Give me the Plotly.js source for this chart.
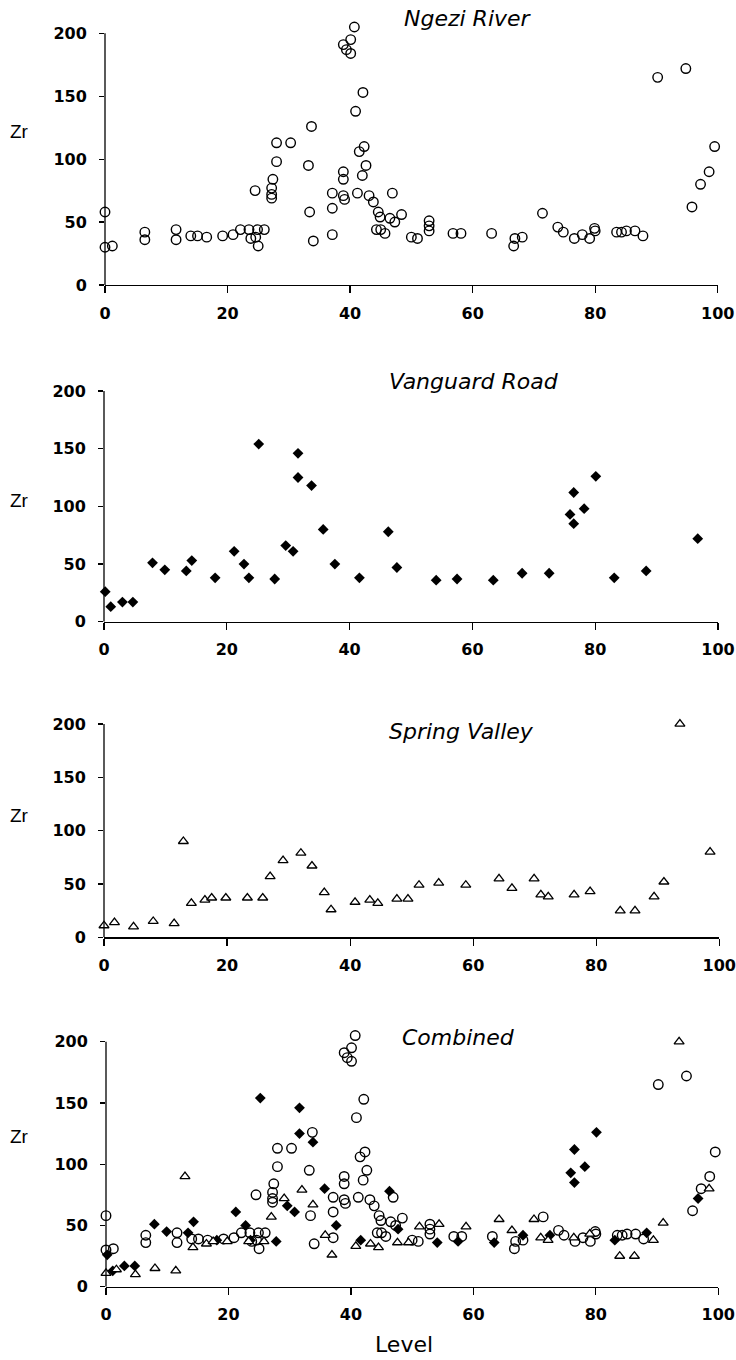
<!DOCTYPE html>
<html>
<head>
<meta charset="utf-8">
<script src="https://cdn.plot.ly/plotly-3.0.1.min.js"></script>
<style>html,body{margin:0;padding:0;background:#fff;}#chart{width:736px;height:1360px;}</style>
</head>
<body>
<div id="chart"></div>
<script>
// ---- Data (Level, Zr) ----
const ngeziLevel = [0,0,1.2,6.5,6.5,11.6,11.6,14.0,15.1,16.6,19.2,20.9,22.1,23.5,23.8,24.6,24.9,25.0,26.0,24.5,27.4,27.2,27.2,27.2,28.0,28.0,30.3,33.2,33.7,33.4,34.0,37.1,37.1,37.1,38.9,38.9,38.9,39.1,38.9,39.4,40.1,40.1,40.7,40.9,42.1,41.2,41.5,42.3,42.0,42.6,43.1,43.8,44.6,44.9,44.3,45.0,45.7,46.9,46.5,47.3,48.4,50.0,51.0,52.9,52.9,52.9,56.8,58.1,63.1,66.7,66.9,68.1,71.4,73.9,74.8,76.6,77.9,79.1,79.9,80.0,83.5,84.3,85.1,86.5,87.8,90.2,94.8,95.8,97.2,98.6,99.5];
const ngeziZr    = [58,30,31,42,36,44,36,39,39,38,39,40,44,44,37,38,44,31,44,75,84,77,72,69,113,98,113,95,126,58,35,40,73,61,90,84,71,68,191,187,195,184,205,138,153,73,106,110,87,95,71,66,58,54,44,44,41,73,53,50,56,38,37,51,47,43,41,41,41,31,37,38,57,46,42,37,40,37,45,43,42,42,43,43,39,165,172,62,80,90,110];

const vanguardLevel = [0.2,1.1,3.0,4.7,7.9,9.9,13.4,14.3,18.1,21.2,22.8,23.6,25.2,27.8,29.6,30.8,31.6,31.6,33.8,35.7,37.6,41.6,46.3,47.7,54.1,57.5,63.4,68.1,72.5,75.9,76.5,76.5,78.2,80.1,83.1,88.3,96.7];
const vanguardZr    = [26,13,17,17,51,45,44,53,38,61,50,38,154,37,66,61,146,125,118,80,50,38,78,47,36,37,36,42,42,93,112,85,98,126,38,44,72];

const springLevel = [0,1.7,4.8,8.0,11.4,12.9,14.2,16.4,17.5,19.8,23.3,25.8,27.0,29.1,32.0,33.8,35.8,36.9,40.8,43.2,44.5,47.6,49.4,51.2,54.4,58.8,64.2,66.3,69.9,71.0,72.2,76.4,79.0,83.9,86.3,89.4,91.0,93.6,98.5];
const springZr    = [11,14,10,15,13,90,32,35,37,37,37,37,57,72,79,67,42,26,33,35,32,36,36,49,51,49,55,46,55,40,38,40,43,25,25,38,52,200,80];

const panelTitles = ["Ngezi River","Vanguard Road","Spring Valley","Combined"];
const xTicks = [0,20,40,60,80,100];
const yTicks = [0,50,100,150,200];

// ---- Layout geometry (pixels in a 736x1360 page) ----
const W = 736, H = 1360;
const yAxisMax = 200, yRangeMax = 215;
const panels = [
  {x0:105, x1:717.7, yTop:33.3,  yBot:285,    titleX:402, titleY:19,   zrY:131},
  {x0:104, x1:718,   yTop:391,   yBot:621.7,  titleX:387, titleY:381,  zrY:500},
  {x0:104, x1:719.3, yTop:724,   yBot:937.3,  titleX:387, titleY:731,  zrY:815},
  {x0:106, x1:718.3, yTop:1041.7,yBot:1286.7, titleX:400, titleY:1037, zrY:1136}
];

const circleStyle  = {symbol:'circle-open', size:9.5, color:'#000', line:{width:1.4, color:'#000'}};
const diamondStyle = {symbol:'diamond', size:8.3, color:'#000', line:{width:0}};
const triStyle     = {symbol:'triangle-up', size:8.7, color:'#fff', line:{width:1.3, color:'#000'}};

const traces = [];
function addTrace(xs, ys, style, axIdx) {
  const s = axIdx === 1 ? '' : String(axIdx);
  traces.push({x:xs, y:ys, type:'scatter', mode:'markers', marker:style,
    xaxis:'x'+s, yaxis:'y'+s, cliponaxis:false, hoverinfo:'x+y', showlegend:false});
}
addTrace(ngeziLevel, ngeziZr, circleStyle, 1);
addTrace(vanguardLevel, vanguardZr, diamondStyle, 2);
addTrace(springLevel, springZr, triStyle, 3);
addTrace(ngeziLevel, ngeziZr, circleStyle, 4);
addTrace(vanguardLevel, vanguardZr, diamondStyle, 4);
addTrace(springLevel, springZr, triStyle, 4);

const tickFont = {family:'DejaVu Sans, Arial, sans-serif', size:16, color:'#000', weight:'bold'};

const layout = {
  width:W, height:H, margin:{l:0,r:0,t:0,b:0},
  paper_bgcolor:'#fff', plot_bgcolor:'#fff', showlegend:false,
  annotations:[], shapes:[]
};

panels.forEach((p, i) => {
  const s = i === 0 ? '' : String(i+1);
  const pxPerUnit = (p.yBot - p.yTop) / yAxisMax;
  const topPx = p.yBot - pxPerUnit * yRangeMax;
  layout['xaxis'+s] = {
    domain:[p.x0/W, p.x1/W], anchor:'y'+s, range:[0,100], fixedrange:true,
    tickvals:xTicks, ticktext:xTicks.map(String), ticks:'outside', ticklen:7, tickwidth:1.2, tickcolor:'#000',
    showline:true, linecolor:'#000', linewidth:1.3, showgrid:false, zeroline:false,
    tickfont:tickFont, ticklabelstandoff:6, ticklabeloverflow:'allow'
  };
  layout['yaxis'+s] = {
    domain:[(H-p.yBot)/H, (H-topPx)/H], anchor:'x'+s, range:[0,yRangeMax], fixedrange:true,
    tickvals:yTicks, ticktext:yTicks.map(String), ticks:'outside', ticklen:5, tickwidth:1.2, tickcolor:'#000',
    showline:false, showgrid:false, zeroline:false,
    tickfont:tickFont, ticklabelstandoff:9, ticklabeloverflow:'allow'
  };
  // y axis line only spans 0..200
  layout.shapes.push({type:'line', xref:'x'+s+' domain', yref:'y'+s, x0:0, x1:0, y0:0, y1:yAxisMax,
    line:{color:'#000', width:1.3}, layer:'above'});
  layout.annotations.push({
    text:panelTitles[i], xref:'paper', yref:'paper', x:p.titleX/W, y:(H-p.titleY)/H,
    xanchor:'left', yanchor:'middle', showarrow:false,
    font:{family:'DejaVu Sans, sans-serif', size:22, color:'#000', style:'italic'}
  });
  layout.annotations.push({
    text:'Zr', xref:'paper', yref:'paper', x:19/W, y:(H-p.zrY)/H,
    xanchor:'center', yanchor:'middle', showarrow:false,
    font:{family:'Liberation Sans, Arial, sans-serif', size:19, color:'#000'}
  });
});

layout.annotations.push({
  text:'Level', xref:'paper', yref:'paper', x:404/W, y:(H-1344)/H,
  xanchor:'center', yanchor:'middle', showarrow:false,
  font:{family:'DejaVu Sans, sans-serif', size:22, color:'#000'}
});

Plotly.newPlot('chart', traces, layout, {displayModeBar:false, staticPlot:true});
</script>
</body>
</html>
